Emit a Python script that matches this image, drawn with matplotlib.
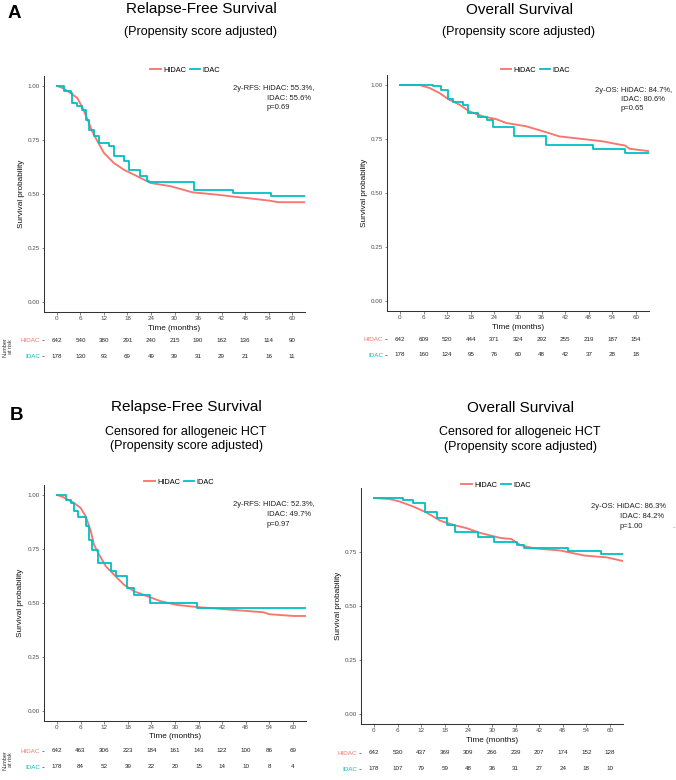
import matplotlib
matplotlib.use("Agg")
import matplotlib.pyplot as plt

plt.rcParams['font.family'] = ['Liberation Sans', 'DejaVu Sans']

W, H = 676, 780
RED = '#F8766D'
CYAN = '#00BFC4'

months = [0, 6, 12, 18, 24, 30, 36, 42, 48, 54, 60]

# A - relapse-free survival
a_rfs_hidac_t = [0, 1.5, 3.5, 5.2, 6.5, 7.7, 9.0, 10.3, 12.0, 14.5, 17.1, 20.5, 23.9, 29.0, 34.5, 40.8, 45.0, 47.7, 54.3, 56.5, 63.5]
a_rfs_hidac_s = [1.0, 0.99, 0.967, 0.944, 0.90, 0.85, 0.79, 0.745, 0.69, 0.644, 0.612, 0.582, 0.551, 0.536, 0.508, 0.497, 0.488, 0.483, 0.469, 0.462, 0.462]
a_rfs_idac_t = [0, 1.8, 3.5, 3.9, 5.2, 6.5, 7.3, 8.2, 9.4, 10.7, 13.3, 14.5, 17.1, 18.4, 21.3, 23.0, 23.4, 35.0, 45.0, 54.5, 63.5]
a_rfs_idac_s = [1.0, 0.978, 0.967, 0.921, 0.906, 0.89, 0.844, 0.798, 0.767, 0.736, 0.72, 0.674, 0.651, 0.612, 0.582, 0.559, 0.554, 0.52, 0.506, 0.49, 0.49]
a_rfs_risk_hidac = [642, 540, 380, 291, 240, 215, 190, 162, 136, 114, 90]
a_rfs_risk_idac = [178, 130, 93, 69, 49, 39, 31, 29, 21, 16, 11]

# A - overall survival
a_os_hidac_t = [0, 4.9, 7.5, 10, 12.5, 15.1, 17.6, 21, 24.4, 27, 32, 36.3, 40.5, 43.9, 51.6, 55.8, 57.2, 58.3, 63.5]
a_os_hidac_s = [1.0, 1.0, 0.986, 0.963, 0.932, 0.909, 0.878, 0.855, 0.842, 0.824, 0.809, 0.786, 0.762, 0.755, 0.739, 0.724, 0.72, 0.705, 0.693]
a_os_idac_t = [0, 8.5, 10.5, 12.2, 13.4, 16.0, 17.3, 19.8, 22.0, 23.7, 29.1, 37.1, 49.1, 57.3, 63.5]
a_os_idac_s = [1.0, 0.993, 0.977, 0.935, 0.922, 0.905, 0.872, 0.85, 0.838, 0.806, 0.762, 0.723, 0.703, 0.683, 0.683]
a_os_risk_hidac = [642, 609, 520, 444, 371, 324, 292, 255, 219, 187, 154]
a_os_risk_idac = [178, 160, 124, 95, 76, 60, 48, 42, 37, 28, 18]

# B - relapse-free survival, censored for allo HCT
b_rfs_hidac_t = [0, 1.6, 4.3, 6.0, 7.3, 8.6, 9.4, 10.7, 12.4, 14.5, 17.0, 19.6, 23.0, 26.4, 30.5, 36.4, 44.9, 52.5, 54.0, 60.1, 63.5]
b_rfs_hidac_s = [1.0, 0.99, 0.963, 0.94, 0.901, 0.832, 0.77, 0.724, 0.67, 0.631, 0.585, 0.554, 0.531, 0.508, 0.491, 0.48, 0.468, 0.457, 0.448, 0.44, 0.44]
b_rfs_idac_t = [0, 2.2, 3.5, 4.2, 5.3, 7.3, 8.1, 9.0, 10.3, 13.7, 14.9, 17.8, 19.5, 23.7, 35.5, 63.5]
b_rfs_idac_s = [1.0, 0.978, 0.963, 0.925, 0.9, 0.855, 0.793, 0.747, 0.685, 0.647, 0.624, 0.57, 0.535, 0.499, 0.477, 0.477]
b_rfs_risk_hidac = [642, 463, 306, 223, 184, 161, 143, 122, 100, 86, 69]
b_rfs_risk_idac = [178, 84, 52, 39, 22, 20, 15, 14, 10, 8, 4]

# B - overall survival, censored for allo HCT
b_os_hidac_t = [0, 4.0, 6.6, 10, 13.4, 16.8, 20.2, 23.6, 27, 32.1, 34.9, 37.2, 40.5, 47.3, 50.7, 53.6, 55.8, 59.2, 63.3]
b_os_hidac_s = [1.0, 0.995, 0.983, 0.96, 0.932, 0.895, 0.875, 0.86, 0.838, 0.815, 0.81, 0.782, 0.767, 0.757, 0.744, 0.733, 0.73, 0.725, 0.708]
b_os_idac_t = [0, 7.5, 10.0, 13.0, 16.0, 18.6, 20.5, 26.5, 30.5, 36.4, 38.1, 49.2, 57.6, 63.3]
b_os_idac_s = [1.0, 0.99, 0.975, 0.933, 0.906, 0.875, 0.842, 0.82, 0.798, 0.782, 0.767, 0.753, 0.742, 0.742]
b_os_risk_hidac = [642, 530, 437, 369, 309, 266, 239, 207, 174, 152, 128]
b_os_risk_idac = [178, 107, 79, 59, 48, 36, 31, 27, 24, 18, 10]

fig = plt.figure(figsize=(W / 100, H / 100), dpi=100)


def px_axes(l, t, r, b):
    return fig.add_axes([l / W, 1 - b / H, (r - l) / W, (b - t) / H])


def ftext(x, y, s, **kw):
    fig.text(x / W, 1 - y / H, s, **kw)


def km_panel(box, rt, rs, ct, cs, legend_xy, leg_names, ylab_x, xlab_y, yticks):
    ax = px_axes(*box)
    l1, = ax.plot(rt, rs, color=RED, lw=1.35)
    l2, = ax.step(ct, cs, where='post', color=CYAN, lw=1.3)
    ax.set_xlim(-3.3, 63.3)
    ax.set_ylim(-0.046, 1.046)
    ax.set_xticks(months)
    ax.set_yticks(yticks)
    ax.set_yticklabels(['%.2f' % v for v in yticks])
    for s in ['top', 'right']:
        ax.spines[s].set_visible(False)
    for s in ['left', 'bottom']:
        ax.spines[s].set_color('#333333')
        ax.spines[s].set_linewidth(0.75)
    ax.tick_params(length=1.8, width=0.5, color='#555555', labelsize=4.5,
                   labelcolor='#4d4d4d', pad=1)
    ax.set_xlabel('Time (months)', fontsize=5.9, color='#111111', va='center')
    ax.xaxis.set_label_coords((box[0] + box[2]) / 2 / W, 1 - xlab_y / H,
                              transform=fig.transFigure)
    ax.set_ylabel('Survival probability', fontsize=5.9, color='#111111', va='center')
    ax.yaxis.set_label_coords(ylab_x / W, 1 - (box[1] + box[3]) / 2 / H,
                              transform=fig.transFigure)
    ax.legend([l1, l2], leg_names, loc='center', ncol=2, frameon=False,
              bbox_to_anchor=(legend_xy[0] / W, 1 - legend_xy[1] / H),
              bbox_transform=fig.transFigure, fontsize=5.3, handlelength=1.4,
              handletextpad=0.3, columnspacing=0.5, borderpad=0)
    return ax


def risk_table(box, hidac, idac):
    ax = px_axes(*box)
    ax.set_xlim(-3.3, 63.3)
    ax.set_ylim(1.5, -0.5)
    for s in ax.spines.values():
        s.set_visible(False)
    ax.set_xticks([])
    ax.set_yticks([0, 1])
    ax.set_yticklabels(['HIDAC', 'IDAC'])
    ax.tick_params(axis='y', length=1.8, width=0.5, color='#444444', labelsize=4.5, pad=1)
    for lab, c in zip(ax.get_yticklabels(), [RED, CYAN]):
        lab.set_color(c)
    for row, vals in enumerate([hidac, idac]):
        for m, n in zip(months, vals):
            ax.text(m, row, str(n), ha='center', va='center', fontsize=4.5, color='#222222')
    return ax


def annot(x1, x2, ys, lines):
    ftext(x1, ys[0], lines[0], fontsize=5.5, color='#222222', va='center')
    ftext(x2, ys[1], lines[1], fontsize=5.5, color='#222222', va='center')
    ftext(x2, ys[2], lines[2], fontsize=5.5, color='#222222', va='center')


# ---- Panel A ----
ftext(8, 18.5, 'A', fontsize=13.5, fontweight='bold', va='baseline')
ftext(201, 13.5, 'Relapse-Free Survival', fontsize=11, ha='center', va='baseline')
ftext(200, 34.5, '(Propensity score adjusted)', fontsize=9, ha='center', va='baseline')
ftext(519, 13.5, 'Overall Survival', fontsize=11, ha='center', va='baseline')
ftext(519, 34.5, '(Propensity score adjusted)', fontsize=9, ha='center', va='baseline')

km_panel((44, 76, 305, 312), a_rfs_hidac_t, a_rfs_hidac_s, a_rfs_idac_t, a_rfs_idac_s,
         (185, 70), ['HIDAC', 'IDAC'], 22, 328, [0, 0.25, 0.5, 0.75, 1.0])
annot(233, 267, (88.5, 98, 107.5), ['2y-RFS: HiDAC: 55.3%,', 'IDAC: 55.6%', 'p=0.69'])
risk_table((44, 332, 305, 364), a_rfs_risk_hidac, a_rfs_risk_idac)
ftext(8, 347, 'Number\nat risk', fontsize=4, rotation=90, ha='center', va='center',
      linespacing=1.0, color='#333333')

km_panel((387, 75, 649, 311), a_os_hidac_t, a_os_hidac_s, a_os_idac_t, a_os_idac_s,
         (535.5, 70), ['HiDAC', 'IDAC'], 365, 327, [0, 0.25, 0.5, 0.75, 1.0])
annot(595, 621, (90, 99.3, 108.3), ['2y-OS: HiDAC: 84.7%,', 'IDAC: 80.6%', 'p=0.65'])
risk_table((387, 331, 649, 363), a_os_risk_hidac, a_os_risk_idac)

# ---- Panel B ----
ftext(10, 420, 'B', fontsize=13.5, fontweight='bold', va='baseline')
ftext(186, 411.5, 'Relapse-Free Survival', fontsize=11, ha='center', va='baseline')
ftext(186, 434.5, 'Censored for allogeneic HCT', fontsize=9, ha='center', va='baseline')
ftext(186, 449.5, '(Propensity score adjusted)', fontsize=9, ha='center', va='baseline')
ftext(520.5, 412, 'Overall Survival', fontsize=11, ha='center', va='baseline')
ftext(520, 435, 'Censored for allogeneic HCT', fontsize=9, ha='center', va='baseline')
ftext(520, 450, '(Propensity score adjusted)', fontsize=9, ha='center', va='baseline')

km_panel((44, 485, 306, 721), b_rfs_hidac_t, b_rfs_hidac_s, b_rfs_idac_t, b_rfs_idac_s,
         (179, 482), ['HIDAC', 'IDAC'], 20.5, 737, [0, 0.25, 0.5, 0.75, 1.0])
annot(233, 267, (504, 514, 524), ['2y-RFS: HIDAC: 52.3%,', 'IDAC: 49.7%', 'p=0.97'])
risk_table((44, 743, 306, 775), b_rfs_risk_hidac, b_rfs_risk_idac)
ftext(8, 760, 'Number\nat risk', fontsize=4, rotation=90, ha='center', va='center',
      linespacing=1.0, color='#333333')

km_panel((361, 488, 623, 724), b_os_hidac_t, b_os_hidac_s, b_os_idac_t, b_os_idac_s,
         (496, 485), ['HIDAC', 'IDAC'], 338, 740, [0, 0.25, 0.5, 0.75])
annot(591, 620, (507, 516.7, 526), ['2y-OS: HiDAC: 86.3%', 'IDAC: 84.2%', 'p=1.00'])
ftext(672, 526, '.', fontsize=5.5, color='#444444', va='center')
risk_table((361, 745, 623, 777), b_os_risk_hidac, b_os_risk_idac)

fig.savefig('out.png', dpi=100, facecolor='white')
